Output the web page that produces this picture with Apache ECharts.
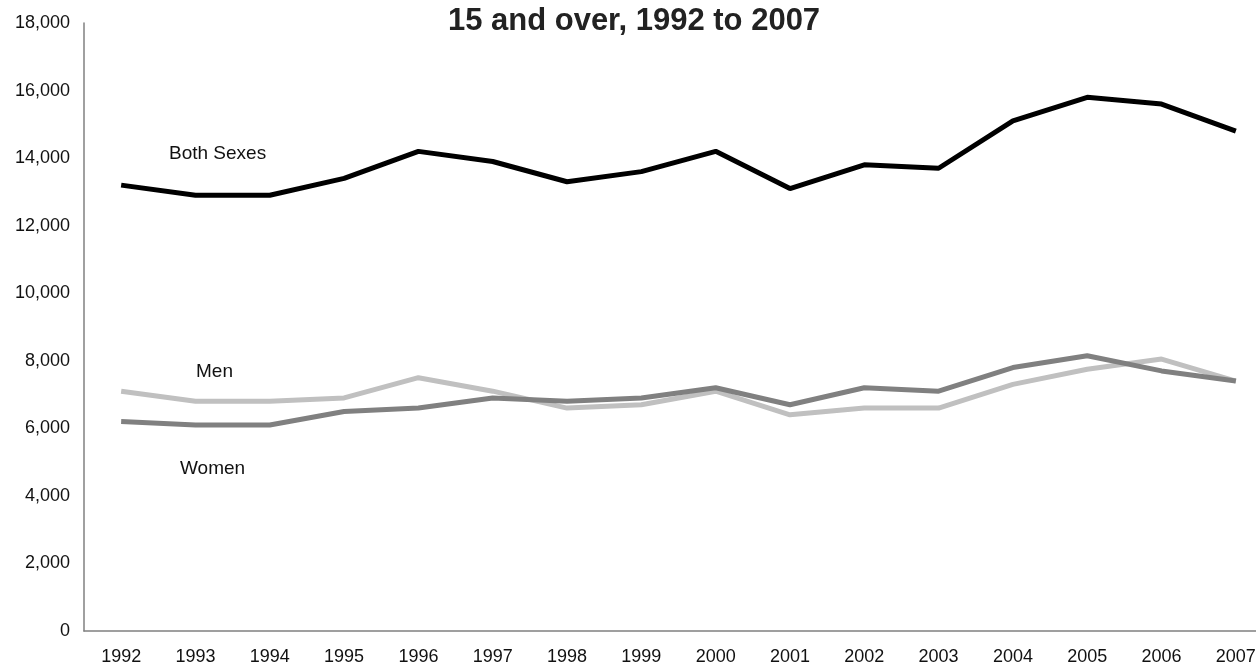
<!DOCTYPE html>
<html><head><meta charset="utf-8">
<script src="https://cdn.jsdelivr.net/npm/echarts@6/dist/echarts.min.js"></script>
<style>html,body{margin:0;padding:0;background:#fff;overflow:hidden;width:1256px;height:668px}#c{width:1273px;height:668px}</style>
</head><body><div id="c"></div>
<script>
const years = ['1992','1993','1994','1995','1996','1997','1998','1999','2000','2001','2002','2003','2004','2005','2006','2007'];
const bothSexes = [13200,12900,12900,13400,14200,13900,13300,13600,14200,13100,13800,13700,15100,15800,15600,14800];
const men = [7100,6800,6800,6900,7500,7100,6600,6700,7100,6400,6600,6600,7300,7750,8050,7400];
const women = [6200,6100,6100,6500,6600,6900,6800,6900,7200,6700,7200,7100,7800,8150,7700,7400];
const titleText = '15 and over, 1992 to 2007';

const chart = echarts.init(document.getElementById('c'));
const font = 'Liberation Sans, Arial, sans-serif';
chart.setOption({
  animation: false,
  backgroundColor: '#fff',
  title: {text: titleText, left: 629, top: 1, textAlign: 'center',
    textStyle: {fontFamily: font, fontWeight: 'bold', fontSize: 31, color: '#222'}},
  grid: {left: 84, right: 0, top: 23, bottom: 37},
  xAxis: {type: 'category', data: years, boundaryGap: true,
    axisLine: {lineStyle: {color: '#808080', width: 1.5}}, axisTick: {show: false},
    axisLabel: {fontFamily: font, fontSize: 18, color: '#111', margin: 17}},
  yAxis: {type: 'value', min: 0, max: 18000, interval: 2000,
    axisLine: {show: true, lineStyle: {color: '#808080', width: 1.5}}, axisTick: {show: false},
    splitLine: {show: false},
    axisLabel: {fontFamily: font, fontSize: 18, color: '#111', margin: 14,
      formatter: v => v.toLocaleString('en-US')}},
  series: [
    {name: 'Both Sexes', type: 'line', data: bothSexes, symbol: 'none', lineStyle: {color: '#000', width: 5}},
    {name: 'Men', type: 'line', data: men, symbol: 'none', lineStyle: {color: '#c0c0c0', width: 5}},
    {name: 'Women', type: 'line', data: women, symbol: 'none', lineStyle: {color: '#808080', width: 5}}
  ],
  graphic: [
    {type: 'text', x: 169, y: 154, style: {text: 'Both Sexes', font: '19px ' + font, fill: '#111', textVerticalAlign: 'middle'}},
    {type: 'text', x: 196, y: 372, style: {text: 'Men', font: '19px ' + font, fill: '#111', textVerticalAlign: 'middle'}},
    {type: 'text', x: 180, y: 469, style: {text: 'Women', font: '19px ' + font, fill: '#111', textVerticalAlign: 'middle'}}
  ]
});
</script></body></html>
